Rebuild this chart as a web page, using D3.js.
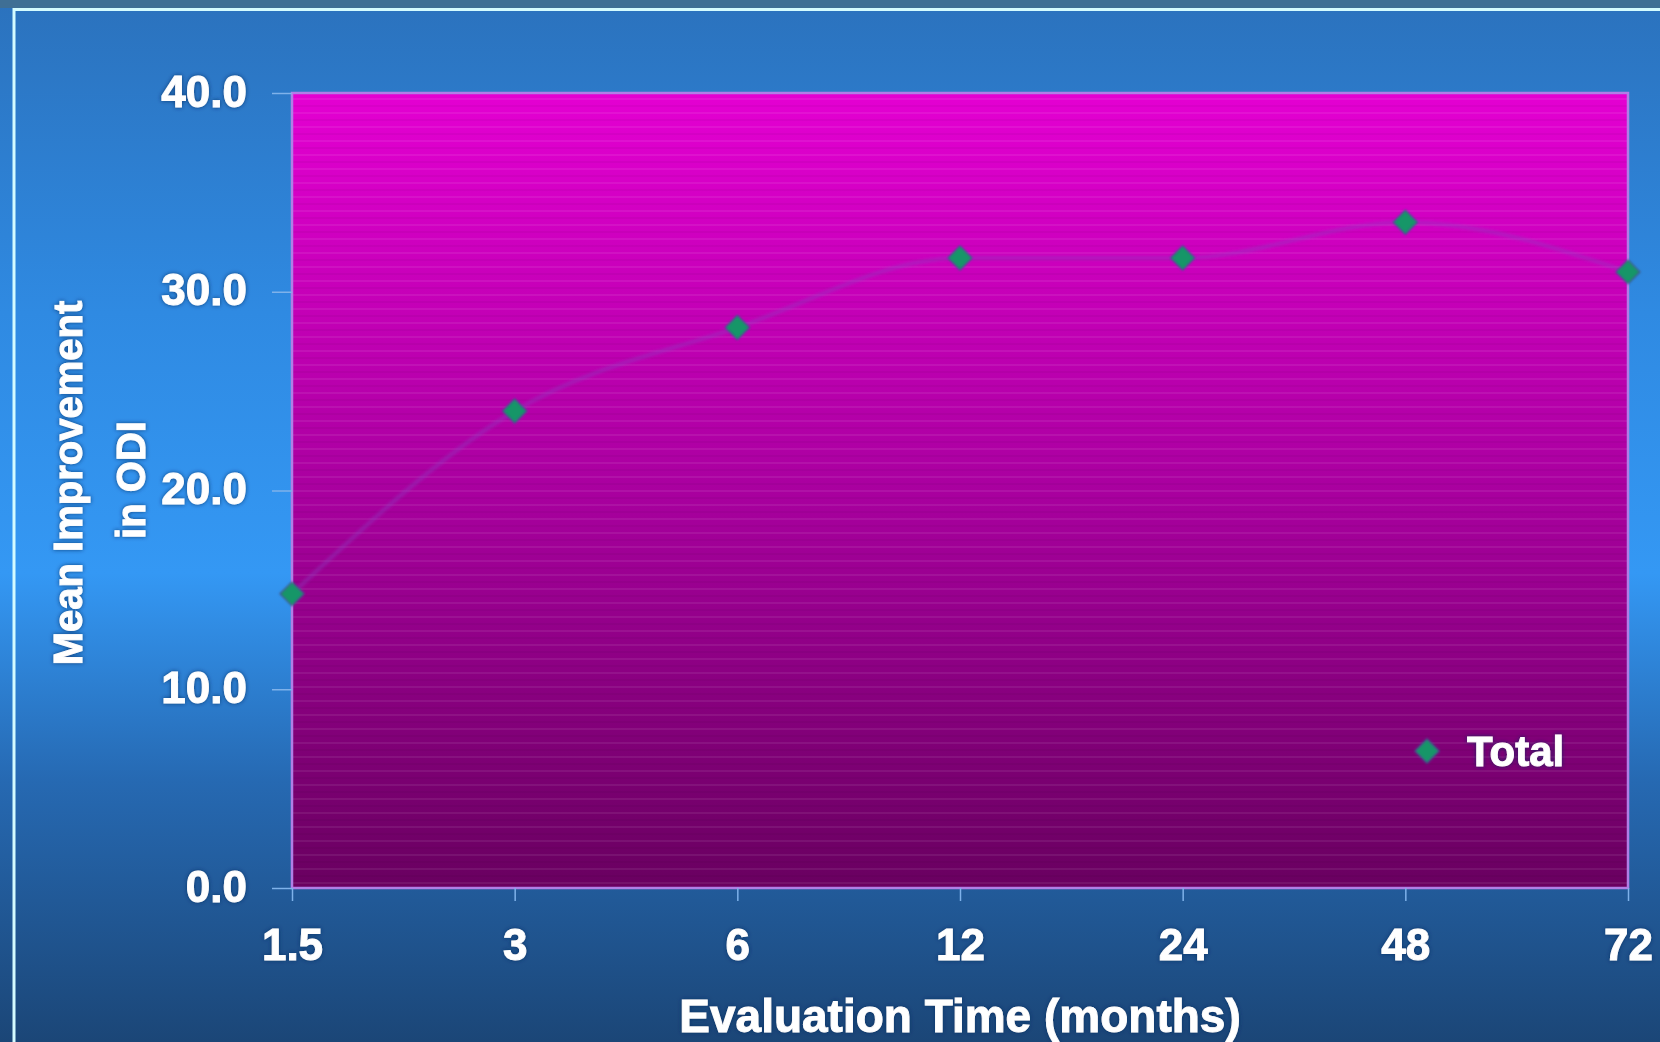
<!DOCTYPE html>
<html>
<head>
<meta charset="utf-8">
<script src="https://cdn.jsdelivr.net/npm/d3@7"></script>
<style>
  html, body { margin: 0; padding: 0; background: #2a70b8; overflow: hidden; }
  svg { display: block; }
  text { font-family: "Liberation Sans", Arial, sans-serif; font-weight: bold; fill: #ffffff; }
</style>
</head>
<body>
<svg id="chart" width="1660" height="1042"></svg>
<script>
// Evaluation times (months) and mean ODI improvement at each visit
const months = ["1.5", "3", "6", "12", "24", "48", "72"];
const meanImprovement = [14.8, 24.0, 28.2, 31.7, 31.7, 33.5, 31.0];
const yTicks = [0, 10, 20, 30, 40];
const seriesName = "Total";

const W = 1660, H = 1042;
const plot = { left: 292, right: 1628, top: 93, bottom: 888 };
const FONT = "'Liberation Sans', Arial, sans-serif";

const svg = d3.select("#chart");
const defs = svg.append("defs");

// slide background: blue vertical gradient
const bg = defs.append("linearGradient").attr("id", "bgGrad")
  .attr("x1", 0).attr("y1", 0).attr("x2", 0).attr("y2", 1);
[[0, "#2b72bd"], [0.3, "#2f8ae2"], [0.55, "#3498f4"], [0.75, "#2669b2"], [1, "#1b4677"]]
  .forEach(([o, c]) => bg.append("stop").attr("offset", o).attr("stop-color", c));

// plot area: magenta to dark purple
const pg = defs.append("linearGradient").attr("id", "plotGrad")
  .attr("x1", 0).attr("y1", 0).attr("x2", 0).attr("y2", 1);
[[0, "#e400d2"], [0.5, "#a9009f"], [1, "#690060"]]
  .forEach(([o, c]) => pg.append("stop").attr("offset", o).attr("stop-color", c));

// faint horizontal banding inside the plot area
const band = defs.append("pattern").attr("id", "bands")
  .attr("patternUnits", "userSpaceOnUse").attr("width", 10).attr("height", 14);
band.append("rect").attr("x", 0).attr("y", 0).attr("width", 10).attr("height", 2)
  .attr("fill", "#ffffff").attr("opacity", 0.07);
band.append("rect").attr("x", 0).attr("y", 7).attr("width", 10).attr("height", 2)
  .attr("fill", "#000000").attr("opacity", 0.04);

// soft dark halo behind the white labels
const halo = defs.append("filter").attr("id", "halo")
  .attr("x", "-10%").attr("y", "-20%").attr("width", "120%").attr("height", "140%");
halo.append("feGaussianBlur").attr("in", "SourceAlpha").attr("stdDeviation", 2.2).attr("result", "b");
halo.append("feFlood").attr("flood-color", "#0d2a60").attr("flood-opacity", 0.8);
halo.append("feComposite").attr("in2", "b").attr("operator", "in").attr("result", "s");
const hm = halo.append("feMerge");
hm.append("feMergeNode").attr("in", "s");
hm.append("feMergeNode").attr("in", "SourceGraphic");

const markerBlur = defs.append("filter").attr("id", "soft")
  .attr("x", "-50%").attr("y", "-50%").attr("width", "200%").attr("height", "200%");
markerBlur.append("feGaussianBlur").attr("stdDeviation", 1.3);

const lineBlur = defs.append("filter").attr("id", "lineSoft")
  .attr("x", "-5%").attr("y", "-20%").attr("width", "110%").attr("height", "140%");
lineBlur.append("feGaussianBlur").attr("stdDeviation", 1.5);

svg.append("rect").attr("width", W).attr("height", H).attr("fill", "url(#bgGrad)");
svg.append("rect").attr("width", W).attr("height", 8).attr("fill", "#3f6f95");

// light frame around the slide
svg.append("path")
  .attr("d", `M14,${H + 5} L14,9.5 L${W + 5},9.5`)
  .attr("fill", "none").attr("stroke", "#d4fbff").attr("stroke-width", 3);

const x = d3.scalePoint().domain(months).range([plot.left, plot.right]).padding(0);
const y = d3.scaleLinear().domain([0, 40]).range([plot.bottom, plot.top]);

// plot area
const plotRect = (fill) => svg.append("rect")
  .attr("x", plot.left).attr("y", plot.top)
  .attr("width", plot.right - plot.left).attr("height", plot.bottom - plot.top)
  .attr("fill", fill);
plotRect("url(#plotGrad)");
plotRect("url(#bands)");
plotRect("none").attr("stroke", "#b07fe6").attr("stroke-width", 2.5);

const styleLabel = sel => sel
  .attr("fill", "#fff").attr("stroke", "#fff").attr("stroke-width", 0.9)
  .attr("filter", "url(#halo)")
  .attr("font-family", FONT).attr("font-weight", "bold");

// axes
const yAxis = svg.append("g")
  .attr("transform", `translate(${plot.left},0)`)
  .call(d3.axisLeft(y).tickValues(yTicks).tickFormat(d3.format(".1f")).tickSize(20).tickPadding(25));
yAxis.select(".domain").remove();
yAxis.selectAll(".tick line").attr("stroke", "#7fb2ea").attr("stroke-width", 1.5);
yAxis.selectAll("text").attr("font-size", 44).attr("dy", "0.3em").call(styleLabel);

const xAxis = svg.append("g")
  .attr("transform", `translate(0,${plot.bottom})`)
  .call(d3.axisBottom(x).tickSize(13));
xAxis.select(".domain").remove();
xAxis.selectAll(".tick line").attr("stroke", "#7fb2ea").attr("stroke-width", 1.5);
xAxis.selectAll("text").attr("y", 72).attr("dy", 0).attr("font-size", 44).call(styleLabel);

// axis titles
svg.append("text")
  .attr("x", (plot.left + plot.right) / 2).attr("y", 1032)
  .attr("text-anchor", "middle").attr("font-size", 46)
  .call(styleLabel)
  .text("Evaluation Time (months)");

const yTitle = svg.append("g").attr("transform", "translate(0,483) rotate(-90)");
yTitle.append("text").attr("x", 0).attr("y", 82)
  .attr("text-anchor", "middle").attr("font-size", 40).call(styleLabel)
  .text("Mean Improvement");
yTitle.append("text").attr("x", 3).attr("y", 145)
  .attr("text-anchor", "middle").attr("font-size", 40).call(styleLabel)
  .text("in ODI");

// faint connecting curve
const pts = months.map((m, i) => [x(m), y(meanImprovement[i])]);
svg.append("path")
  .attr("d", d3.line().curve(d3.curveMonotoneX)(pts))
  .attr("fill", "none").attr("stroke", "#8a40c0").attr("stroke-opacity", 0.4)
  .attr("stroke-width", 4).attr("filter", "url(#lineSoft)");

// diamond markers
const diamond = d3.symbol().type(d3.symbolDiamond2).size(360);
svg.append("g").selectAll("path")
  .data(pts)
  .join("path")
  .attr("transform", d => `translate(${d[0]},${d[1]})`)
  .attr("d", diamond)
  .attr("fill", "#139668")
  .attr("stroke", "#3b5a8a").attr("stroke-width", 1.5)
  .attr("filter", "url(#soft)");

// legend
const legend = svg.append("g").attr("transform", "translate(1427,751)");
legend.append("path").attr("d", diamond).attr("fill", "#139668")
  .attr("stroke", "#3b5a8a").attr("stroke-width", 1.5).attr("filter", "url(#soft)");
legend.append("text").attr("x", 40).attr("dy", "0.36em")
  .attr("font-size", 42).call(styleLabel)
  .text(seriesName);
</script>
</body>
</html>
